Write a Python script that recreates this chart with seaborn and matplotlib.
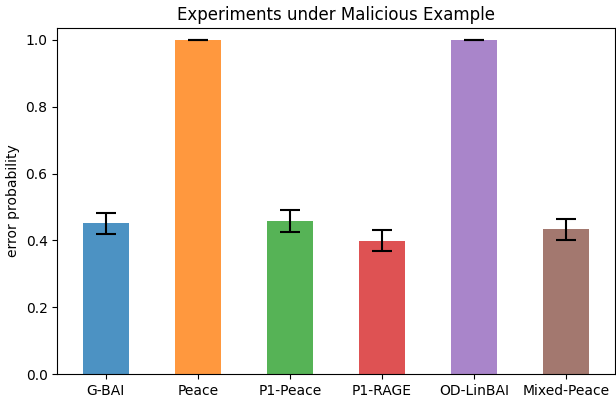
import seaborn as sns
import pandas as pd
import matplotlib.pyplot as plt

methods = ['G-BAI', 'Peace', 'P1-Peace', 'P1-RAGE', 'OD-LinBAI', 'Mixed-Peace']
error_prob = [0.451, 1.0, 0.458, 0.399, 1.0, 0.433]
error_std = [0.031, 0.0, 0.032, 0.031, 0.0, 0.031]


def plot_malicious():
    df = pd.DataFrame({'method': methods, 'prob': error_prob, 'std': error_std})
    fig, ax = plt.subplots(figsize=(6.16, 3.98), dpi=100)
    sns.barplot(data=df, x='method', y='prob', hue='method', palette='tab10',
                saturation=1, width=0.5, alpha=0.8, legend=False, ax=ax)
    ax.errorbar(x=range(len(df)), y=df['prob'], yerr=df['std'], fmt='none',
                ecolor='black', capsize=7.5, elinewidth=1.5, capthick=1.5)
    ax.set_ylim(0, 1.036)
    ax.set_xlabel('')
    ax.set_ylabel('error probability')
    ax.set_title('Experiments under Malicious Example')
    fig.subplots_adjust(left=0.093, right=0.998, bottom=0.06, top=0.93)
    fig.savefig('out.png')


if __name__ == '__main__':
    plot_malicious()
